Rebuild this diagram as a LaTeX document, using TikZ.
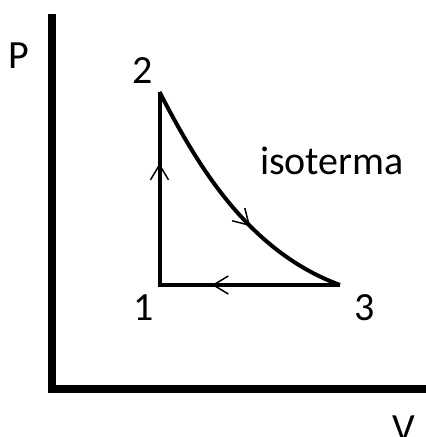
\documentclass[tikz,border=0pt]{standalone}
\usepackage{fontspec}
\setmainfont{Carlito}
\usetikzlibrary{arrows.meta,decorations.markings}
\tikzset{
  axis/.style={line width=7.5pt, line join=miter},
  cycleline/.style={line width=4pt},
  lbl/.style={inner sep=0pt, anchor=base, font=\fontsize{40}{48}\selectfont},
  barb/.style={postaction={decorate}, decoration={markings, mark=at position #1 with {\arrow{Straight Barb[length=15pt,width=18pt,line width=1.5pt]}}}}
}
\begin{document}
\begin{tikzpicture}[x=1pt,y=-1pt]
\useasboundingbox (0,0) rectangle (426,437);
\coordinate (top) at (52,14);
\coordinate (origin) at (52,389);
\coordinate (right) at (430,389);
\draw[axis] (top) -- (origin) -- (right);
\coordinate (p1) at (159.5,285);
\coordinate (p2) at (159.5,92);
\coordinate (p3) at (340,285);
\draw[cycleline, barb=0.63] (p1) -- (p2);
\draw[cycleline, barb=0.6] (p2) .. controls (195,160) and (245,250) .. (p3);
\draw[cycleline, barb=0.71] (p3) -- (p1);
\draw[cycleline, line cap=rect] (p1) -- ++(0,-1);
\node[lbl] (l2) at (143,83) {2};
\node[lbl] (l1) at (144,320) {1};
\node[lbl] (l3) at (365,320) {3};
\node[lbl] (iso) at (332,174) {isoterma};
\node[lbl] (P) at (19,68) {P};
\node[lbl] (V) at (404,441) {V};
\end{tikzpicture}
\end{document}
